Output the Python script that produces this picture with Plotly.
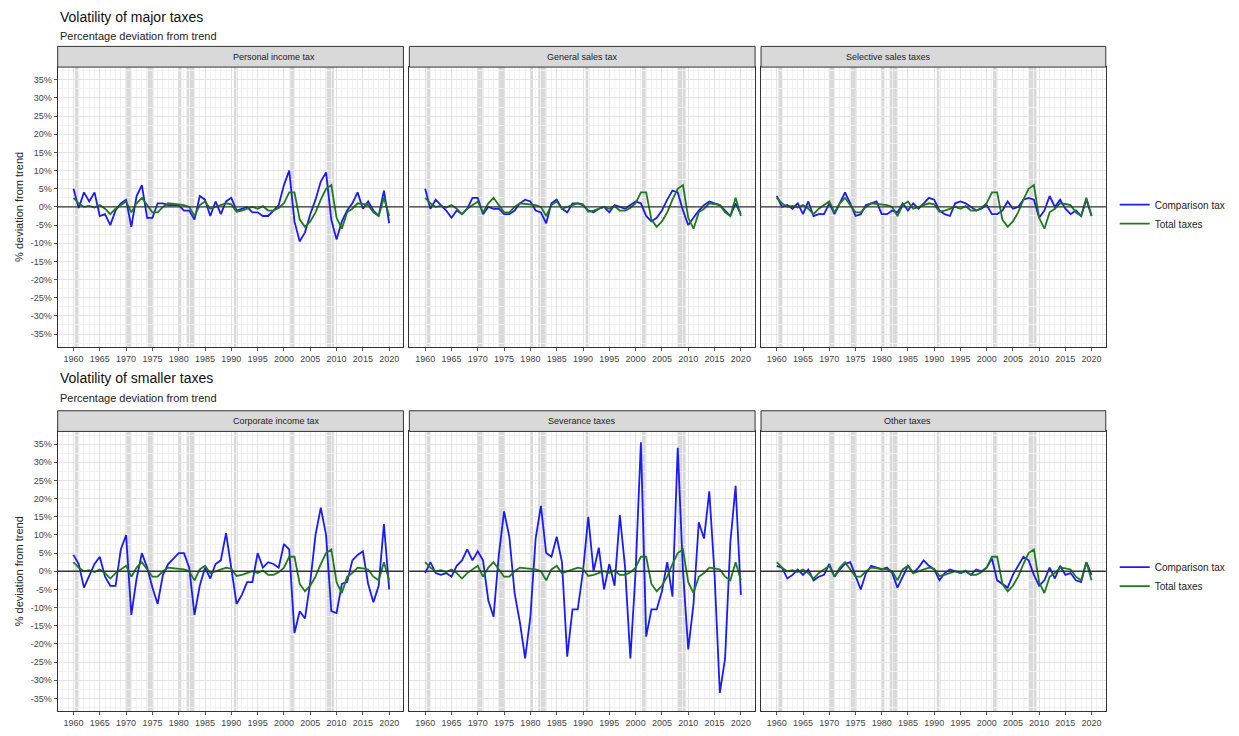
import plotly.graph_objects as go

years = list(range(1960, 2021))

total_taxes = [2.5, 1, 0, 0.3, -0.2, 0.5, -0.5, -2, -0.5, 0.5, 1.5, -1.5, 1, 2.5, 0.5, -1.5, -1.5, 0, 1, 0.8,
               0.5, 0.5, 0, -2.5, 0.5, 1.5, -0.5, 0, 0.3, 1, 0.7, -1.3, -1, -0.5, 0, -0.5, 0.2, -1, -1, -0.3,
               1, 4, 4, -3.5, -5.5, -4, -1.5, 2, 5, 6, -3, -6, -1.5, -0.5, 1, 0.8, 0.5, -1.5, -2.5, 2.5, -2.5]
personal_income = [5, -0.3, 4, 1.5, 4, -2.5, -2, -5, -1, 1, 2, -5.5, 3, 6, -3, -3, 1, 1, 0.5, 0.5,
                   0.5, -1, -1, -3.5, 3, 2, -2.5, 1.5, -2, 1.5, 2.5, -1, -0.5, 0, -1.5, -1.5, -2.5, -2.5, -1, 0.5,
                   6, 10, -4, -9.5, -7, -2, 2, 7, 9.5, -3.5, -9, -4, -1, 1, 4, -0.5, 1.5, -1, -2.5, 4.5, -4.5]
general_sales = [5, -0.5, 2, 0.5, -1, -3, -1, -2, -0.5, 2.5, 2.5, -2, 0, -0.5, -0.5, -2, -2, -1, 1, 2,
                 1.5, -1, -1.5, -4.5, 1, 2, -0.5, -1.5, 1, 1, 0.5, -1, -1.5, -0.5, 0, -1.5, 0.5, 0, -0.5, 0.5,
                 1.5, 1, -2.5, -4, -3, -1, 2, 4.5, 4, -1, -5, -3, -1, 0.5, 1.5, 1, 0.5, -1, -2.5, 1, -2]
selective_sales = [3, 0, 0.5, -0.5, 1, -2, 1.5, -2.5, -2, -2, 1, -2, 1, 4, 1, -2.5, -2, 0.5, 1, 1.5,
                   -2, -2, -1, -1.5, 1, -1, 1, -0.5, 1, 2.5, 2, -1, -2, -2.5, 1, 1.5, 1, 0, -1, -0.5,
                   0.5, -2, -2, -1, 1.5, -0.5, 0, 2, 2.5, 2, -3, -1, 3, 0, 2, -0.5, -2, -1, -2.5, 2, -2.5]
corporate_income = [4.5, 2, -4.5, -1, 2, 4, -1.5, -4, -4, 6, 10, -12, -2, 5, 1, -4.5, -9, -1, 2, 3.5,
                    5, 5, 1, -12, -4, 1, -2, 2, 3, 10.5, 0, -9, -6.5, -3, -3, 5, 1, 2.5, 2, 1,
                    7.5, 6, -17, -11, -13, -3, 10, 17.5, 10, -11, -11.5, -3.5, -3, 3, 4.5, 5.5, -3.5, -8.5, -4, 13, -5]
severance = [-0.5, 2.5, -0.5, -1, -0.5, -1.5, 1.5, 3, 6, 3, 5.5, 3, -8, -12.5, 4.5, 16.5, 9.5, -6, -14, -24,
             -12.5, 9, 18, 5, 4, 9.5, 2.5, -23.5, -10.5, -10.5, 0, 15, 0, 6.5, -5, 2, -4, 15.5, 1, -24,
             0, 35.5, -18, -10.5, -10.5, -5.5, 2.5, -7, 34, 0, -21.5, -9, 13.5, 9, 22, -1, -33.5, -24, 8, 23.5, -6.5]
other_taxes = [1.5, 1, -2, -1, 0.5, -1, 0.5, -2.5, -1.5, -1, 2, -1.5, 0.5, 2, 2.5, -1, -5, -0.5, 1.5, 1,
               0.5, 1, -0.5, -4.5, -1.5, 1.5, -0.5, 1, 3, 1.5, 0.5, -2.5, -0.5, 0.5, 0, -0.5, 0, -1, 0.5, 0,
               1, 3.5, -2.5, -3.5, -4.5, -1, 1.5, 4, 3, -1, -4, -2.5, 1, -2, 1.5, -1, -0.5, -2.5, -3, 2.5, -1]

recessions = [(1960.3, 1961.1), (1969.9, 1970.9), (1973.9, 1975.2), (1980.0, 1980.5),
              (1981.5, 1982.9), (1990.5, 1991.2), (2001.2, 2001.9), (2007.9, 2009.5)]

panels = [
    ("Personal income tax", personal_income), ("General sales tax", general_sales),
    ("Selective sales taxes", selective_sales), ("Corporate income tax", corporate_income),
    ("Severance taxes", severance), ("Other taxes", other_taxes),
]

OFF = 8  # page body margin
W, H = 1239 - 2 * OFF, 736 - 2 * OFF
xs = [(58 - OFF, 406 - OFF), (412 - OFF, 760 - OFF), (766 - OFF, 1113 - OFF)]
ys = [(68 - OFF, 352 - OFF), (438 - OFF, 722 - OFF)]
BLUE, GREEN = "#1a1aff", "#1e7a1e"

fig = go.Figure()
shapes, annotations = [], []
for i, (name, vals) in enumerate(panels):
    r, c = divmod(i, 3)
    n = i + 1
    xa, ya = f"xaxis{'' if n == 1 else n}", f"yaxis{'' if n == 1 else n}"
    xr, yr = f"x{'' if n == 1 else n}", f"y{'' if n == 1 else n}"
    x0, x1 = xs[c][0] / W, xs[c][1] / W
    y0, y1 = 1 - ys[r][1] / H, 1 - ys[r][0] / H
    leg = "legend" if r == 0 else "legend2"
    fig.add_trace(go.Scatter(x=years, y=vals, mode="lines", line=dict(color=BLUE, width=1.8),
                             name="Comparison tax", xaxis=xr, yaxis=yr, legend=leg, showlegend=(c == 0)))
    fig.add_trace(go.Scatter(x=years, y=total_taxes, mode="lines", line=dict(color=GREEN, width=1.8),
                             name="Total taxes", xaxis=xr, yaxis=yr, legend=leg, showlegend=(c == 0)))
    fig.layout[xa] = dict(domain=[x0, x1], range=[1957, 2022.7], anchor=yr, tickvals=list(range(1960, 2021, 5)),
                          showgrid=True, gridcolor="#e3e3e3", gridwidth=1, zeroline=False,
                          minor=dict(dtick=1, tick0=1960, showgrid=True, gridcolor="#f1f1f1"),
                          ticks="outside", ticklen=3, tickcolor="#555", tickfont=dict(size=9, color="#444"),
                          showline=True, linecolor="#333", mirror=True)
    fig.layout[ya] = dict(domain=[y0, y1], range=[-38.5, 38.5], anchor=xr, tickvals=list(range(-35, 36, 5)),
                          ticktext=[f"{v}%" for v in range(-35, 36, 5)], showticklabels=(c == 0),
                          showgrid=True, gridcolor="#e3e3e3", zeroline=False,
                          minor=dict(dtick=2.5, tick0=0, showgrid=True, gridcolor="#f1f1f1"),
                          ticks="outside" if c == 0 else "", ticklen=3, tickcolor="#555",
                          tickfont=dict(size=9, color="#444"),
                          showline=True, linecolor="#333", mirror=True,
                          title=dict(text="% deviation from trend", font=dict(size=11, color="#222"), standoff=4) if c == 0 else None)
    for a, b in recessions:
        shapes.append(dict(type="rect", xref=xr, yref=f"{yr} domain", x0=a, x1=b, y0=0, y1=1,
                           fillcolor="#d9d9d9", line_width=0, layer="below"))
    shapes.append(dict(type="line", xref=f"{xr} domain", yref=yr, x0=0, x1=1, y0=0, y1=0,
                       line=dict(color="#333", width=1.3)))
    sy1 = 1 - (ys[r][0] - 21) / H
    shapes.append(dict(type="rect", xref="paper", yref="paper", x0=x0, x1=x1, y0=y1, y1=sy1,
                       fillcolor="#d9d9d9", line=dict(color="#333", width=1)))
    annotations.append(dict(text=name, xref="paper", yref="paper", x=(x0 + x1) / 2, y=(y1 + sy1) / 2,
                            yanchor="middle", showarrow=False, font=dict(size=9, color="#222")))

for ty, sy, t in [(17, 36, "Volatility of major taxes"), (384, 404, "Volatility of smaller taxes")]:
    annotations.append(dict(text=t, xref="paper", yref="paper", x=(58 - OFF) / W, y=1 - (ty - OFF) / H,
                            xanchor="left", yanchor="middle", showarrow=False, font=dict(size=14, color="#111")))
    annotations.append(dict(text="Percentage deviation from trend", xref="paper", yref="paper",
                            x=(58 - OFF) / W, y=1 - (sy - OFF) / H, xanchor="left", yanchor="middle",
                            showarrow=False, font=dict(size=11, color="#222")))

fig.update_layout(
    width=W, height=H, margin=dict(l=0, r=0, t=0, b=0), plot_bgcolor="white", paper_bgcolor="white",
    font=dict(family="Liberation Sans, Arial, sans-serif"), shapes=shapes, annotations=annotations,
    legend=dict(x=(1122 - OFF) / W, y=1 - (193 - OFF) / H, xanchor="left", yanchor="top",
                font=dict(size=10, color="#222"), tracegroupgap=2, itemwidth=30),
    legend2=dict(x=(1122 - OFF) / W, y=1 - (561 - OFF) / H, xanchor="left", yanchor="top",
                 font=dict(size=10, color="#222"), tracegroupgap=2, itemwidth=30),
)
fig.write_html("out.html")
